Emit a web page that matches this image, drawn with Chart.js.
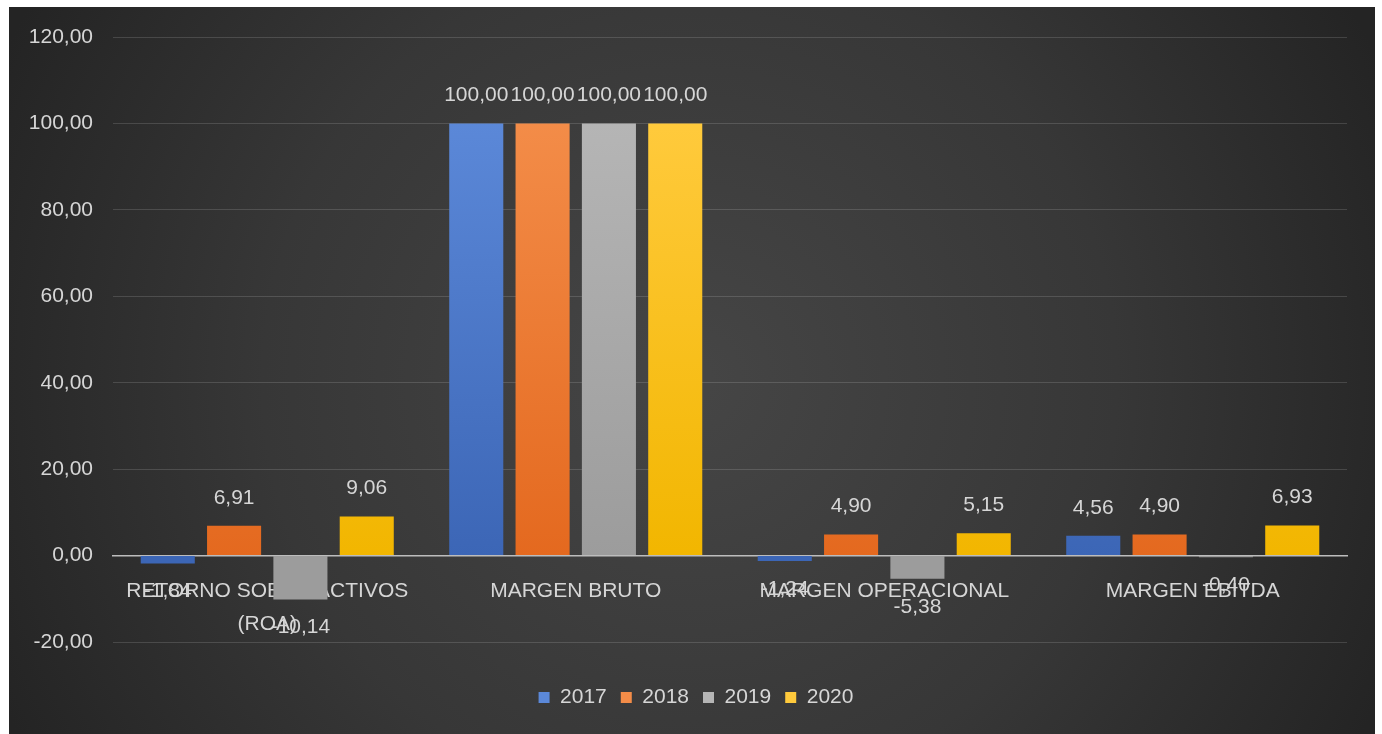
<!DOCTYPE html>
<html>
<head>
<meta charset="utf-8">
<script src="https://cdn.jsdelivr.net/npm/chart.js@4"></script>
<style>
  html, body { margin: 0; padding: 0; background: #ffffff; }
  #wrap { position: relative; width: 1382px; height: 734px; }
</style>
</head>
<body>
<div id="wrap"><canvas id="c"></canvas></div>
<script>
const categories = [["RETORNO SOBRE ACTIVOS", "(ROA)"], "MARGEN BRUTO", "MARGEN OPERACIONAL", "MARGEN EBITDA"];
const seriesNames = ["2017", "2018", "2019", "2020"];
const values2017 = [-1.84, 100.00, -1.24, 4.56];
const values2018 = [6.91, 100.00, 4.90, 4.90];
const values2019 = [-10.14, 100.00, -5.38, -0.40];
const values2020 = [9.06, 100.00, 5.15, 6.93];
const yTicks = [-20, 0, 20, 40, 60, 80, 100, 120];

const topColors = ["#5b88d8", "#f38c48", "#b5b5b5", "#ffca3c"];
const bottomColors = ["#3c66b6", "#e4691f", "#9c9c9c", "#f2b600"];
const FONT = "'Liberation Sans', Arial, sans-serif";
const TEXT = "#d6d6d6";
const FS = 21;

function fmt(v) { return v.toFixed(2).replace('.', ','); }

function gradFor(i) {
  return function(ctx) {
    const chart = ctx.chart;
    const area = chart.chartArea;
    if (!area) return topColors[i];
    const ys = chart.scales.y;
    const g = chart.ctx.createLinearGradient(0, ys.getPixelForValue(100), 0, ys.getPixelForValue(0));
    g.addColorStop(0, topColors[i]);
    g.addColorStop(1, bottomColors[i]);
    return g;
  };
}

const bgPlugin = {
  id: 'bg',
  beforeDraw(chart) {
    const c = chart.ctx;
    c.save();
    c.fillStyle = '#ffffff';
    c.fillRect(0, 0, chart.width, chart.height);
    const x0 = 9, y0 = 7, x1 = 1375, y1 = chart.height;
    const g = c.createRadialGradient(690, 380, 20, 690, 380, 760);
    g.addColorStop(0, '#454545');
    g.addColorStop(0.55, '#373737');
    g.addColorStop(1, '#242424');
    c.fillStyle = g;
    c.fillRect(x0, y0, x1 - x0, y1 - y0);
    c.restore();
  }
};

const labelPlugin = {
  id: 'dataLabels',
  afterDatasetsDraw(chart) {
    const c = chart.ctx;
    c.save();
    c.font = FS + "px " + FONT;
    c.fillStyle = TEXT;
    c.textAlign = 'center';
    c.textBaseline = 'middle';
    chart.data.datasets.forEach((ds, i) => {
      const meta = chart.getDatasetMeta(i);
      meta.data.forEach((el, j) => {
        const v = ds.data[j];
        const y = v >= 0 ? el.y - 28 : el.y + 28;
        c.fillText(fmt(v), el.x, y);
      });
    });
    c.restore();
  }
};

const datasets = [values2017, values2018, values2019, values2020].map((vals, i) => ({
  label: seriesNames[i],
  data: vals,
  xAxisID: 'x',
  yAxisID: 'y',
  backgroundColor: gradFor(i),
  borderWidth: 0,
  categoryPercentage: 0.86,
  barPercentage: 0.815
}));

new Chart(document.getElementById('c'), {
  type: 'bar',
  data: { labels: categories, datasets: datasets },
  plugins: [bgPlugin, labelPlugin],
  options: {
    responsive: true,
    maintainAspectRatio: false,
    animation: false,
    devicePixelRatio: 1,
    layout: { padding: { left: 10, right: 0, top: 37, bottom: 16 } },
    plugins: {
      legend: {
        position: 'bottom',
        labels: {
          color: TEXT,
          font: { family: FONT, size: FS },
          boxWidth: 11,
          boxHeight: 11,
          padding: 14,
          generateLabels(chart) {
            return chart.data.datasets.map((ds, i) => ({
              text: ds.label,
              fillStyle: topColors[i],
              strokeStyle: topColors[i],
              lineWidth: 0,
              fontColor: TEXT,
              datasetIndex: i
            }));
          }
        }
      },
      tooltip: { enabled: false }
    },
    scales: {
      x: {
        position: { y: 0 },
        grid: { display: false, drawTicks: false },
        border: { display: true, color: '#bdbdbd', width: 1.5 },
        ticks: {
          color: TEXT,
          font: { family: FONT, size: FS, lineHeight: 1.58 },
          padding: 19,
          maxRotation: 0,
          autoSkip: false
        }
      },
      y: {
        min: -20,
        max: 120,
        afterBuildTicks(s) { s.ticks = yTicks.map(v => ({ value: v })); },
        afterFit(s) { s.width = 103; },
        grid: { color: 'rgba(255,255,255,0.14)', lineWidth: 1, drawTicks: false },
        border: { display: false },
        ticks: {
          color: TEXT,
          font: { family: FONT, size: FS },
          padding: 20,
          callback: (v) => fmt(v)
        }
      },
      pad: {
        type: 'category',
        position: 'bottom',
        display: true,
        grid: { display: false, drawTicks: false },
        border: { display: false },
        ticks: { display: false },
        afterFit(s) { s.height = 31; }
      },
      padR: {
        type: 'linear',
        position: 'right',
        display: true,
        min: 0,
        max: 1,
        grid: { display: false, drawTicks: false },
        border: { display: false },
        ticks: { display: false },
        afterFit(s) { s.width = 35; }
      }
    }
  }
});
</script>
</body>
</html>
